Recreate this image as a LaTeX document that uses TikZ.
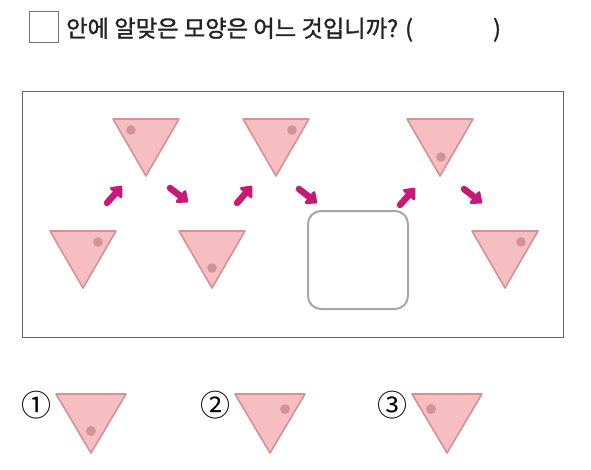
\documentclass[tikz,border=0pt]{standalone}
\usepackage{fontspec}
\usetikzlibrary{arrows.meta}
\newfontfamily\krfont{Noto Sans CJK KR}
\newfontfamily\krheavy[FakeBold=1.3]{Noto Sans CJK KR}
\definecolor{trifill}{RGB}{246,190,192}
\definecolor{triline}{RGB}{210,146,150}
\definecolor{tridot}{RGB}{211,146,150}
\definecolor{arrowpink}{RGB}{200,24,120}
\definecolor{titlegray}{RGB}{35,35,35}
\begin{document}
\begin{tikzpicture}[x=1pt,y=-1pt,
  tri/.style={fill=trifill,draw=triline,line width=1.6pt,line join=round},
  mark dot/.style={fill=tridot},
  turn/.style={draw=arrowpink,line width=6.5pt,line cap=round,-{Triangle[length=11pt,width=18pt,round]}},
  frame/.style={draw=black!60,line width=0.9pt}]
\useasboundingbox (0,0) rectangle (591,469);
% question line
\draw[draw=black!55,line width=0.8pt] (29,11) rectangle (58,42);
\node[anchor=base west,inner sep=0pt,text=titlegray,font=\krheavy\fontsize{23.3}{27}\selectfont] (title) at (66,37) {안에 알맞은 모양은 어느 것입니까? (\hspace{80pt})};
% pattern box
\draw[frame] (22,91) rectangle (563,337);
\draw[tri] (113,119) -- ++(66,0) -- ++(-33,57) -- cycle;
\fill[mark dot] (131,130) circle (4.8);
\draw[tri] (243,119) -- ++(66,0) -- ++(-33,57) -- cycle;
\fill[mark dot] (292,130) circle (4.8);
\draw[tri] (407,119) -- ++(66,0) -- ++(-33,57) -- cycle;
\fill[mark dot] (441,157) circle (4.8);
\draw[tri] (50,231) -- ++(66,0) -- ++(-33,57) -- cycle;
\fill[mark dot] (98,242) circle (4.8);
\draw[tri] (179,231) -- ++(66,0) -- ++(-33,57) -- cycle;
\fill[mark dot] (212,268) circle (4.8);
\draw[tri] (472,231) -- ++(66,0) -- ++(-33,57) -- cycle;
\fill[mark dot] (521,242) circle (4.8);
\draw[draw=black!35,line width=2pt,rounded corners=13pt] (308,211) rectangle (408,309);
\draw[turn] (107,203) -- (122,186);
\draw[turn] (170,188) -- (188,202);
\draw[turn] (237,203) -- (252,186);
\draw[turn] (299,189) -- (317,203);
\draw[turn] (400,205) -- (415,188);
\draw[turn] (464,189) -- (482,203);
% choices
\begin{scope}[font=\krfont\fontsize{30}{32}\selectfont]
\node (one) at (36.5,405) {①};
\node (two) at (215,405) {②};
\node (three) at (392,405) {③};
\end{scope}
\draw[tri] (56,394) -- ++(70,0) -- ++(-35,59) -- cycle;
\fill[mark dot] (91,431) circle (5);
\draw[tri] (235,394) -- ++(70,0) -- ++(-35,59) -- cycle;
\fill[mark dot] (285,409) circle (5);
\draw[tri] (412,394) -- ++(70,0) -- ++(-35,59) -- cycle;
\fill[mark dot] (431,409) circle (5);
\end{tikzpicture}
\end{document}
